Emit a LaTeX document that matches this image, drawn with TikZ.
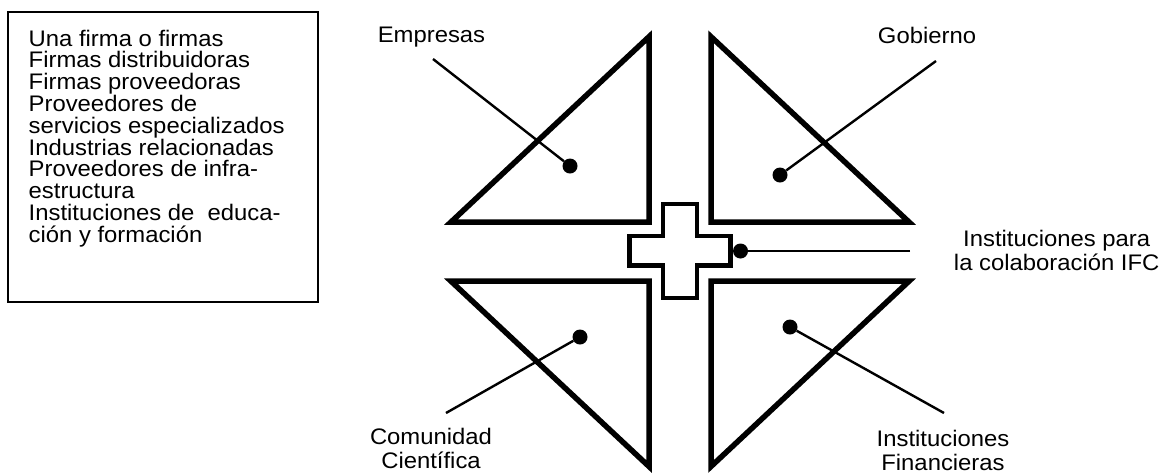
\documentclass[tikz,border=0pt]{standalone}
\usepackage{fontspec}
\setmainfont[FakeStretch=1.06]{Liberation Sans}
\usepackage{tikz}
\usetikzlibrary{positioning,calc}
\tikzset{
  triangulo/.style={draw=black,line width=5.5pt,line join=miter},
  cruz/.style={draw=black,line width=4.5pt,fill=white},
  punto/.style={circle,fill=black,inner sep=0pt,minimum size=15pt},
  guia/.style={draw=black,line width=2.4pt},
  etiqueta/.style={inner sep=0pt,align=center,font=\fontsize{22.5}{24}\selectfont},
  lista/.style={inner sep=0pt,align=left,font=\fontsize{22.5}{21.8}\selectfont},
}

\begin{document}
\begin{tikzpicture}[x=1pt,y=-1pt]
  \useasboundingbox (0,0) rectangle (1173,475);
  % caja de la izquierda
  \draw[line width=1.5pt] (8,12) rectangle (318,302);
  % (base = linea final)
  \node[lista,anchor=base west] (actores) at (28.5,242.2)
    {Una firma o firmas\\Firmas distribuidoras\\Firmas proveedoras\\Proveedores de\\
     servicios especializados\\Industrias relacionadas\\Proveedores de infra-\\
     estructura\\Instituciones de\ \ educa-\\ción y formación};
  % cuatro triangulos
  \foreach \sx/\sy in {-1/-1,1/-1,-1/1,1/1} {
    \draw[triangulo] (680+\sx*31,251.6+\sy*29.6) -- ++(\sx*198,0)
      -- (680+\sx*31,251.6+\sy*214.9) -- cycle;
  }
  % cruz central
  \draw[cruz] (662.8,203.8) -- (697.2,203.8) -- (697.2,236.2) -- (730.5,236.2)
    -- (730.5,265.3) -- (697.2,265.3) -- (697.2,297.8) -- (662.8,297.8)
    -- (662.8,265.3) -- (629.5,265.3) -- (629.5,236.2) -- (662.8,236.2) -- cycle;
  % puntos
  \node[punto] (pEmp) at (570,166) {};
  \node[punto] (pGob) at (780,175) {};
  \node[punto] (pCom) at (580,337) {};
  \node[punto] (pFin) at (790,327) {};
  \node[punto] (pIfc) at (740.5,251) {};
  % etiquetas
  \node[etiqueta,anchor=base] (empresas) at (431.5,42) {Empresas};
  \node[etiqueta,anchor=base] (gobierno) at (927,43) {Gobierno};
  \node[etiqueta,anchor=base] (ifc) at (1056.7,270) {Instituciones para\\la colaboración IFC};
  \node[etiqueta,anchor=base] (comunidad) at (431,468) {Comunidad\\Científica};
  \node[etiqueta,anchor=base] (financieras) at (943,470) {Instituciones\\Financieras};
  % extremos de las lineas guia
  \coordinate (eEmp) at (433,59);
  \coordinate (eGob) at (936,61);
  \coordinate (eCom) at (446,413);
  \coordinate (eFin) at (944,413);
  \coordinate (eIfc) at (910,251);
  \draw[guia] (eEmp) -- (pEmp);
  \draw[guia] (eGob) -- (pGob);
  \draw[guia] (eCom) -- (pCom);
  \draw[guia] (eFin) -- (pFin);
  \draw[guia] (eIfc) -- (pIfc);
\end{tikzpicture}
\end{document}
